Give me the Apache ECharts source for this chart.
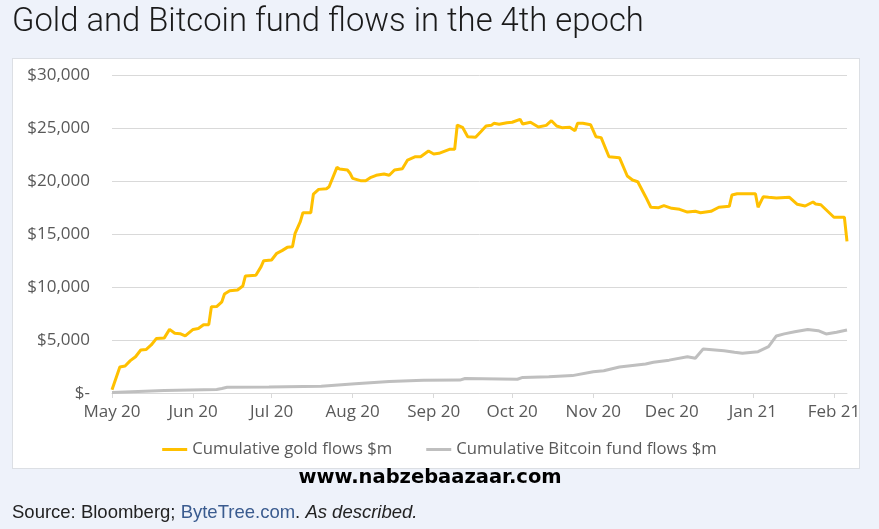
<!DOCTYPE html>
<html><head><meta charset="utf-8">
<script src="https://cdn.jsdelivr.net/npm/echarts@6/dist/echarts.min.js"></script>
<style>
html,body{margin:0;padding:0;background:#eef2fa;}
#panel{position:absolute;left:12px;top:58px;width:846px;height:409px;background:#fff;border:1px solid #dcdfe4;}
#c{position:absolute;left:0;top:0;width:879px;height:529px;}
</style>
</head><body><div id="panel"></div><div id="c"></div>
<script>
const goldDates = ['2020-05-01','2020-05-04','2020-05-06','2020-05-08','2020-05-10','2020-05-12','2020-05-14','2020-05-16','2020-05-18','2020-05-21','2020-05-23','2020-05-25','2020-05-27','2020-05-29','2020-06-01','2020-06-03','2020-06-05','2020-06-07','2020-06-08','2020-06-10','2020-06-12','2020-06-13','2020-06-15','2020-06-18','2020-06-20','2020-06-21','2020-06-25','2020-06-27','2020-06-28','2020-07-01','2020-07-03','2020-07-05','2020-07-07','2020-07-09','2020-07-10','2020-07-12','2020-07-13','2020-07-16','2020-07-17','2020-07-19','2020-07-22','2020-07-23','2020-07-26','2020-07-27','2020-07-30','2020-07-31','2020-08-01','2020-08-04','2020-08-06','2020-08-08','2020-08-10','2020-08-13','2020-08-15','2020-08-17','2020-08-20','2020-08-22','2020-08-25','2020-08-27','2020-08-30','2020-09-01','2020-09-03','2020-09-07','2020-09-09','2020-09-10','2020-09-12','2020-09-14','2020-09-17','2020-09-19','2020-09-21','2020-09-23','2020-09-24','2020-09-26','2020-09-29','2020-10-01','2020-10-04','2020-10-05','2020-10-08','2020-10-11','2020-10-14','2020-10-16','2020-10-18','2020-10-20','2020-10-23','2020-10-25','2020-10-26','2020-10-28','2020-10-31','2020-11-02','2020-11-04','2020-11-07','2020-11-11','2020-11-14','2020-11-16','2020-11-18','2020-11-21','2020-11-23','2020-11-26','2020-11-28','2020-12-01','2020-12-04','2020-12-07','2020-12-10','2020-12-12','2020-12-16','2020-12-19','2020-12-23','2020-12-24','2020-12-26','2021-01-02','2021-01-03','2021-01-05','2021-01-07','2021-01-10','2021-01-15','2021-01-18','2021-01-21','2021-01-24','2021-01-25','2021-01-27','2021-02-01','2021-02-05','2021-02-06'];
const goldValues = [300,2450,2550,3050,3420,4060,4100,4530,5150,5200,6000,5630,5600,5380,6000,6080,6440,6450,8140,8150,8600,9340,9650,9720,10090,11040,11100,11920,12480,12550,13180,13430,13740,13800,15070,16160,17010,17010,18770,19210,19270,19460,21290,21130,21040,20730,20250,20030,20030,20350,20540,20660,20540,21040,21160,21980,22290,22290,22830,22550,22610,22990,22990,25280,25070,24180,24120,24650,25190,25250,25440,25350,25500,25540,25820,25380,25540,25100,25250,25690,25190,25030,25070,24750,25440,25440,25300,24180,24090,22290,22200,20470,20090,19930,18520,17520,17480,17670,17420,17330,17070,17140,17010,17140,17520,17610,18680,18800,18800,17520,18520,18460,18400,18460,17800,17640,18020,17830,17760,16580,16580,14300];
const btcDates = ['2020-05-01','2020-05-11','2020-05-21','2020-05-31','2020-06-10','2020-06-12','2020-06-14','2020-06-30','2020-07-20','2020-08-02','2020-08-15','2020-08-28','2020-09-11','2020-09-13','2020-10-03','2020-10-05','2020-10-15','2020-10-24','2020-11-01','2020-11-05','2020-11-11','2020-11-21','2020-11-24','2020-11-30','2020-12-07','2020-12-10','2020-12-13','2020-12-21','2020-12-25','2020-12-28','2021-01-03','2021-01-07','2021-01-10','2021-01-13','2021-01-17','2021-01-22','2021-01-26','2021-01-29','2021-02-02','2021-02-06'];
const btcValues = [50,150,230,290,330,420,540,560,640,880,1080,1200,1220,1370,1300,1470,1540,1640,2000,2100,2450,2730,2900,3100,3420,3280,4150,3990,3840,3740,3900,4380,5380,5580,5780,6000,5880,5570,5740,5940];
const xTickLabels = ['May 20','Jun 20','Jul 20','Aug 20','Sep 20','Oct 20','Nov 20','Dec 20','Jan 21','Feb 21'];
const seriesNames = ['Cumulative gold flows $m','Cumulative Bitcoin fund flows $m'];

const cats = [];
for (let t = Date.UTC(2020,4,1); t <= Date.UTC(2021,1,6); t += 86400000) {
  cats.push(new Date(t).toISOString().slice(0,10));
}
const isMonthStart = (i, v) => cats[i].slice(8) === '01';
const monthIdx = v => (parseInt(v.slice(0,4)) - 2020) * 12 + parseInt(v.slice(5,7)) - 5;

const chart = echarts.init(document.getElementById('c'));
const axisFont = {fontFamily:'Open Sans', fontSize:17, color:'#595959'};
chart.setOption({
  animation:false,
  backgroundColor:'transparent',
  grid:{left:112, right:32, top:75, bottom:136, containLabel:false},
  xAxis:{type:'category', data:cats, boundaryGap:false,
    axisLine:{show:true, lineStyle:{color:'#d9d9d9', width:1}},
    axisTick:{show:true, interval:isMonthStart, length:5, lineStyle:{color:'#d9d9d9'}},
    axisLabel:Object.assign({interval:isMonthStart, margin:11, formatter:v => xTickLabels[monthIdx(v)]}, axisFont),
    splitLine:{show:false}},
  yAxis:{type:'value', min:0, max:30000, interval:5000,
    axisLine:{show:false}, axisTick:{show:false},
    axisLabel:Object.assign({margin:22, formatter:v => v === 0 ? '$-' : '$' + v.toLocaleString('en-US')}, axisFont),
    splitLine:{lineStyle:{color:'#d9d9d9', width:1}}},
  legend:{top:436, left:'center', itemWidth:25, itemHeight:3, itemGap:34,
    icon:'rect', textStyle:{fontFamily:'Open Sans', fontSize:16.7, color:'#595959'},
    data:seriesNames},
  series:[
    {name:seriesNames[0], type:'line', showSymbol:false, z:3,
     data:goldDates.map((d,i)=>[d, goldValues[i]]),
     lineStyle:{color:'#FFC000', width:3}, itemStyle:{color:'#FFC000'}},
    {name:seriesNames[1], type:'line', showSymbol:false, z:2,
     data:btcDates.map((d,i)=>[d, btcValues[i]]),
     lineStyle:{color:'#BFBFBF', width:3}, itemStyle:{color:'#BFBFBF'}}
  ],
  graphic:[
    {type:'text', x:12, y:23, style:{text:'Gold and Bitcoin fund flows in the 4th epoch', fontFamily:'Roboto', fontWeight:300, fontSize:32.8, fill:'#1a1a1a', verticalAlign:'middle'}},
    {type:'text', x:430, y:478, style:{text:'www.nabzebaazaar.com', fontFamily:'DejaVu Sans', fontWeight:'bold', fontSize:19.5, fill:'#000', align:'center', verticalAlign:'middle'}},
    {type:'text', x:12, y:513, style:{text:'{a|Source: Bloomberg; }{b|ByteTree.com}{a|. }{c|As described.}', verticalAlign:'middle',
      rich:{a:{fontFamily:'Liberation Sans', fontSize:18.5, fill:'#222'},
            b:{fontFamily:'Liberation Sans', fontSize:18.5, fill:'#3a5b8f'},
            c:{fontFamily:'Liberation Sans', fontSize:18.5, fontStyle:'italic', fill:'#222'}}}}
  ]
});
</script></body></html>
